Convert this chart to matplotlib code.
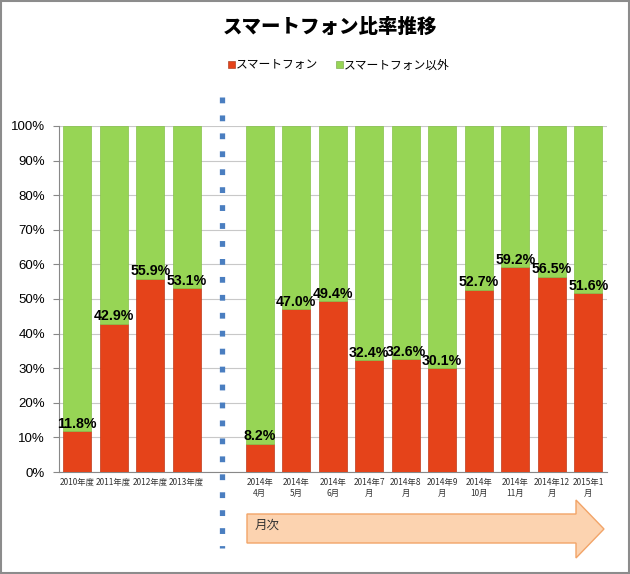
import matplotlib.pyplot as plt
import numpy as np
from matplotlib.patches import Rectangle, Polygon
from matplotlib.lines import Line2D

plt.rcParams['font.family'] = ['Noto Sans CJK JP', 'DejaVu Sans']

# data
categories = ['2010年度', '2011年度', '2012年度', '2013年度', '',
              '2014年\n4月', '2014年\n5月', '2014年\n6月', '2014年7\n月', '2014年8\n月',
              '2014年9\n月', '2014年\n10月', '2014年\n11月', '2014年12\n月', '2015年1\n月']
smartphone = [11.8, 42.9, 55.9, 53.1, None,
              8.2, 47.0, 49.4, 32.4, 32.6, 30.1, 52.7, 59.2, 56.5, 51.6]

red = '#E5431A'
green = '#97D555'

fig = plt.figure(figsize=(6.3, 5.74), dpi=100)
ax = fig.add_axes([0.0937, 0.1777, 0.869, 0.6028])

x = np.arange(len(categories))
for i, v in enumerate(smartphone):
    if v is None:
        continue
    ax.bar(i, v, width=0.76, color=red, edgecolor='#C0391A', linewidth=0.5, zorder=3)
    ax.bar(i, 100 - v, bottom=v, width=0.76, color=green, edgecolor='#86C24A', linewidth=0.5, zorder=3)
    ax.text(i, v + 0.1, f'{v:.1f}%', ha='center', va='bottom', fontsize=10.2,
            fontweight='bold', family=['Liberation Sans'], zorder=4)

ax.set_xlim(-0.5, len(categories) - 0.5)
ax.set_ylim(0, 100)
ax.set_yticks(np.arange(0, 101, 10))
ax.set_yticklabels([f'{t}%' for t in range(0, 101, 10)], fontsize=9.5, family=['Liberation Sans'])
ax.set_xticks(x)
ax.set_xticklabels(categories, fontsize=6, color='#333333', linespacing=1.3)
ax.tick_params(axis='x', length=0, pad=4)
ax.tick_params(axis='y', length=4, color='#888888', pad=6)
ax.grid(axis='y', color='#C8C8C8', linewidth=0.8, zorder=0)
for s in ['top', 'right']:
    ax.spines[s].set_visible(False)
ax.spines['left'].set_color('#888888')
ax.spines['bottom'].set_color('#888888')

# title and legend
fig.text(0.524, 0.953, 'スマートフォン比率推移', ha='center', va='center', fontsize=14, fontweight='heavy')
fig.patches.append(Rectangle((0.362, 0.881), 0.011, 0.012, transform=fig.transFigure,
                             facecolor=red, edgecolor='#A03010', linewidth=0.4))
fig.text(0.375, 0.887, 'スマートフォン', ha='left', va='center', fontsize=8.5)
fig.patches.append(Rectangle((0.533, 0.881), 0.011, 0.012, transform=fig.transFigure,
                             facecolor=green, edgecolor='#70A040', linewidth=0.4))
fig.text(0.546, 0.887, 'スマートフォン以外', ha='left', va='center', fontsize=8.5)

# dotted separator
fig.lines.append(Line2D([222 / 630, 222 / 630], [1 - 97 / 574, 1 - 548 / 574], transform=fig.transFigure,
                        color='#4A7EC0', linewidth=3.8, dashes=(1.1, 2.3), dash_capstyle='butt'))

# arrow
pts = [(247, 514), (576, 514), (576, 500), (604, 529), (576, 558), (576, 543), (247, 543)]
fig.patches.append(Polygon([(px / 630, 1 - py / 574) for px, py in pts], closed=True,
                           transform=fig.transFigure, facecolor='#FCD3B0', edgecolor='#F2A468',
                           linewidth=1.0))
fig.text(255 / 630, 1 - 525 / 574, '月次', ha='left', va='center', fontsize=9, color='#333333')

# frame
fig.patches.append(Rectangle((0.002, 0.002), 0.996, 0.996, transform=fig.transFigure,
                             fill=False, edgecolor='#8C8C8C', linewidth=1.5))

fig.savefig('out.png', dpi=100)
